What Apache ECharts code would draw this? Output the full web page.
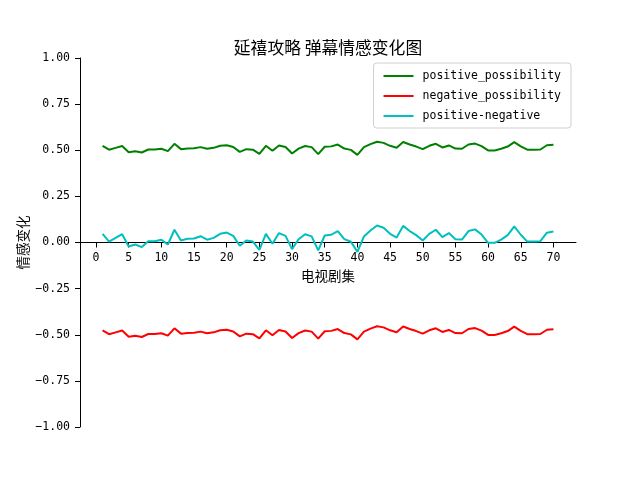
<!DOCTYPE html>
<html>
<head>
<meta charset="utf-8">
<script src="https://cdn.jsdelivr.net/npm/echarts@6/dist/echarts.min.js"></script>
<style>html,body{margin:0;padding:0;background:#fff}#c{width:640px;height:480px}</style>
</head>
<body>
<div id="c"></div>
<script>
const episodes = [];
for (let i = 1; i <= 70; i++) episodes.push(i);

const positivePossibility = [
  0.524, 0.503, 0.513, 0.523, 0.489, 0.495, 0.488, 0.504, 0.504, 0.508,
  0.495, 0.535, 0.506, 0.510, 0.511, 0.517, 0.508, 0.513, 0.524, 0.527,
  0.518, 0.491, 0.506, 0.503, 0.480, 0.524, 0.497, 0.526, 0.518, 0.482,
  0.509, 0.523, 0.517, 0.479, 0.519, 0.521, 0.531, 0.509, 0.502, 0.475,
  0.517, 0.533, 0.546, 0.540, 0.524, 0.514, 0.545, 0.531, 0.520, 0.506,
  0.524, 0.535, 0.515, 0.526, 0.509, 0.508, 0.531, 0.536, 0.522, 0.499,
  0.499, 0.508, 0.520, 0.544, 0.521, 0.503, 0.503, 0.504, 0.527, 0.530
];
const negativePossibility = [
  -0.476, -0.497, -0.487, -0.477, -0.511, -0.505, -0.512, -0.496, -0.496, -0.492,
  -0.505, -0.465, -0.494, -0.490, -0.489, -0.483, -0.492, -0.487, -0.476, -0.473,
  -0.482, -0.509, -0.494, -0.497, -0.520, -0.476, -0.503, -0.474, -0.482, -0.518,
  -0.491, -0.477, -0.483, -0.521, -0.481, -0.479, -0.469, -0.491, -0.498, -0.525,
  -0.483, -0.467, -0.454, -0.460, -0.476, -0.486, -0.455, -0.469, -0.480, -0.494,
  -0.476, -0.465, -0.485, -0.474, -0.491, -0.492, -0.469, -0.464, -0.478, -0.501,
  -0.501, -0.492, -0.480, -0.456, -0.479, -0.497, -0.497, -0.496, -0.473, -0.470
];
const positiveMinusNegative = [
  0.047, 0.005, 0.025, 0.045, -0.022, -0.011, -0.025, 0.007, 0.007, 0.015,
  -0.011, 0.069, 0.011, 0.020, 0.022, 0.034, 0.015, 0.025, 0.047, 0.054,
  0.036, -0.018, 0.011, 0.005, -0.040, 0.047, -0.007, 0.051, 0.036, -0.036,
  0.018, 0.045, 0.033, -0.043, 0.038, 0.042, 0.062, 0.018, 0.004, -0.051,
  0.033, 0.065, 0.092, 0.080, 0.047, 0.027, 0.090, 0.062, 0.040, 0.011,
  0.047, 0.069, 0.029, 0.051, 0.018, 0.016, 0.062, 0.071, 0.043, -0.002,
  -0.002, 0.016, 0.040, 0.087, 0.042, 0.005, 0.005, 0.007, 0.053, 0.060
];
const xTicks = [0, 5, 10, 15, 20, 25, 30, 35, 40, 45, 50, 55, 60, 65, 70];
const seriesNames = ['positive_possibility', 'negative_possibility', 'positive-negative'];

const pair = arr => arr.map((v, i) => [episodes[i], v]);
const mono = 'DejaVu Sans Mono';
const cjk = 'Noto Sans CJK SC';

const gridTop = 58, gridBottom = 53, H = 480;
const zeroOffset = -((H - gridBottom) - (gridTop + (H - gridBottom - gridTop) / 2));

const chart = echarts.init(document.getElementById('c'), null, {renderer: 'canvas'});
chart.setOption({
  animation: false,
  backgroundColor: '#fff',
  title: {
    text: '延禧攻略 弹幕情感变化图',
    left: 323, top: 34, textAlign: 'center',
    textStyle: {fontFamily: cjk, fontSize: 16.8, fontWeight: 'normal', color: '#000'}
  },
  legend: {
    orient: 'vertical',
    right: 69, top: 63,
    padding: [7, 10, 6, 10],
    itemGap: 8,
    itemWidth: 30, itemHeight: 2,
    icon: 'rect',
    borderColor: '#d0d0d0', borderWidth: 1, borderRadius: 3,
    backgroundColor: 'rgba(255,255,255,0.8)',
    textStyle: {fontFamily: mono, fontSize: 11.5, color: '#000', padding: [0, 0, 0, 4]},
    data: seriesNames
  },
  grid: {left: 80, right: 64, top: gridTop, bottom: gridBottom, containLabel: false},
  xAxis: {
    type: 'value',
    position: 'bottom',
    offset: zeroOffset,
    min: -2.45, max: 73.45,
    name: '电视剧集',
    nameLocation: 'middle',
    nameGap: 27,
    nameMoveOverlap: false,
    nameTextStyle: {fontFamily: cjk, fontSize: 13.5, color: '#000'},
    axisLine: {onZero: false, lineStyle: {color: '#000', width: 1}},
    axisTick: {show: true, length: 5, customValues: xTicks, lineStyle: {color: '#000', width: 1}},
    axisLabel: {customValues: xTicks, fontFamily: mono, fontSize: 11.5, color: '#000', margin: 10},
    splitLine: {show: false}
  },
  yAxis: {
    type: 'value',
    min: -1, max: 1, interval: 0.25,
    name: '情感变化',
    nameLocation: 'middle',
    nameGap: 50,
    nameMoveOverlap: false,
    nameTextStyle: {fontFamily: cjk, fontSize: 13.5, color: '#000'},
    axisLine: {show: true, onZero: false, lineStyle: {color: '#000', width: 1}},
    axisTick: {show: true, length: 5, lineStyle: {color: '#000'}},
    axisLabel: {
      fontFamily: mono, fontSize: 11.5, color: '#000', margin: 10,
      formatter: v => (v < 0 ? '\u2212' : '') + Math.abs(v).toFixed(2)
    },
    splitLine: {show: false}
  },
  series: [
    {name: seriesNames[0], type: 'line', data: pair(positivePossibility), symbol: 'none',
     itemStyle: {color: '#008000'}, lineStyle: {color: '#008000', width: 2}},
    {name: seriesNames[1], type: 'line', data: pair(negativePossibility), symbol: 'none',
     itemStyle: {color: '#ff0000'}, lineStyle: {color: '#ff0000', width: 2}},
    {name: seriesNames[2], type: 'line', data: pair(positiveMinusNegative), symbol: 'none',
     itemStyle: {color: '#00bfbf'}, lineStyle: {color: '#00bfbf', width: 2}}
  ]
});
</script>
</body>
</html>
